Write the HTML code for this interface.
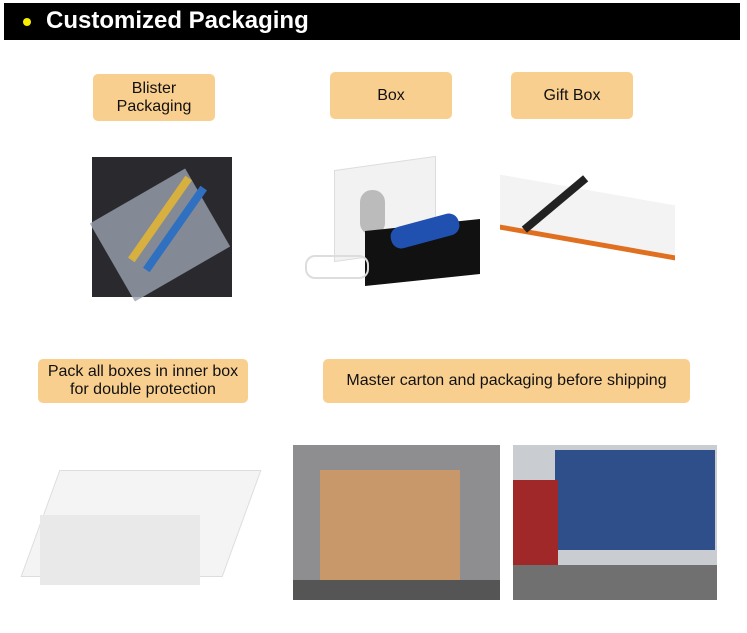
<!DOCTYPE html>
<html><head><style>
body{margin:0;width:747px;height:633px;background:#fff;position:relative;overflow:hidden;font-family:"Liberation Sans",Arial,sans-serif}
.a{position:absolute}
.lb{position:absolute;background:#f9cf8f;border-radius:5px;display:flex;align-items:center;justify-content:center;text-align:center;font-size:16px;line-height:18px;color:#111}
</style></head><body>
<div class="a" style="left:4px;top:3px;width:736px;height:37px;background:#000"></div>
<div class="a" style="left:23px;top:18px;width:8px;height:8px;border-radius:50%;background:#f5ec00"></div>
<div class="a" style="left:46px;top:6px;color:#fff;font-weight:bold;font-size:24px;line-height:30px">Customized Packaging</div>

<div class="lb" style="left:93px;top:74px;width:122px;height:47px">Blister<br>Packaging</div>
<div class="lb" style="left:330px;top:72px;width:122px;height:47px">Box</div>
<div class="lb" style="left:511px;top:72px;width:122px;height:47px">Gift Box</div>
<div class="lb" style="left:38px;top:359px;width:210px;height:44px">Pack all boxes in inner box<br>for double protection</div>
<div class="lb" style="left:323px;top:359px;width:367px;height:44px">Master carton and packaging before shipping</div>

<!-- blister photo -->
<div class="a" style="left:92px;top:157px;width:140px;height:140px;background:#2a2a2e"></div>
<div class="a" style="left:105px;top:190px;width:110px;height:90px;background:#9aa3b0;transform:rotate(-30deg);opacity:.8"></div>
<div class="a" style="left:110px;top:215px;width:100px;height:8px;background:#d8b040;transform:rotate(-55deg)"></div>
<div class="a" style="left:125px;top:225px;width:100px;height:8px;background:#3070c0;transform:rotate(-55deg)"></div>

<!-- box photo -->
<div class="a" style="left:334px;top:163px;width:100px;height:90px;background:#f2f2f2;border:1px solid #ddd;transform:skewY(-8deg)"></div>
<div class="a" style="left:360px;top:190px;width:25px;height:45px;background:#bbb;border-radius:12px"></div>
<div class="a" style="left:365px;top:225px;width:115px;height:55px;background:#111;transform:skewY(-6deg)"></div>
<div class="a" style="left:390px;top:220px;width:70px;height:22px;background:#2050b0;border-radius:10px;transform:rotate(-15deg)"></div>
<div class="a" style="left:305px;top:255px;width:60px;height:20px;border:2px solid #ddd;border-radius:10px"></div>

<!-- gift box photo -->
<div class="a" style="left:500px;top:190px;width:175px;height:50px;background:#f3f3f3;border-bottom:5px solid #e07020;transform:skewY(10deg)"></div>
<div class="a" style="left:515px;top:200px;width:80px;height:8px;background:#222;transform:rotate(-40deg)"></div>

<!-- inner white box -->
<div class="a" style="left:40px;top:470px;width:200px;height:105px;background:#f4f4f4;border:1px solid #ddd;transform:skewX(-20deg)"></div>
<div class="a" style="left:40px;top:515px;width:160px;height:70px;background:#e9e9e9"></div>

<!-- container photo -->
<div class="a" style="left:293px;top:445px;width:207px;height:155px;background:#8e8e90"></div>
<div class="a" style="left:320px;top:470px;width:140px;height:125px;background:#c9986a"></div>
<div class="a" style="left:293px;top:580px;width:207px;height:20px;background:#555"></div>

<!-- truck photo -->
<div class="a" style="left:513px;top:445px;width:204px;height:155px;background:#c9cdd2"></div>
<div class="a" style="left:555px;top:450px;width:160px;height:100px;background:#2e4f8a"></div>
<div class="a" style="left:513px;top:480px;width:45px;height:85px;background:#a02828"></div>
<div class="a" style="left:513px;top:565px;width:204px;height:35px;background:#707070"></div>
</body></html>
